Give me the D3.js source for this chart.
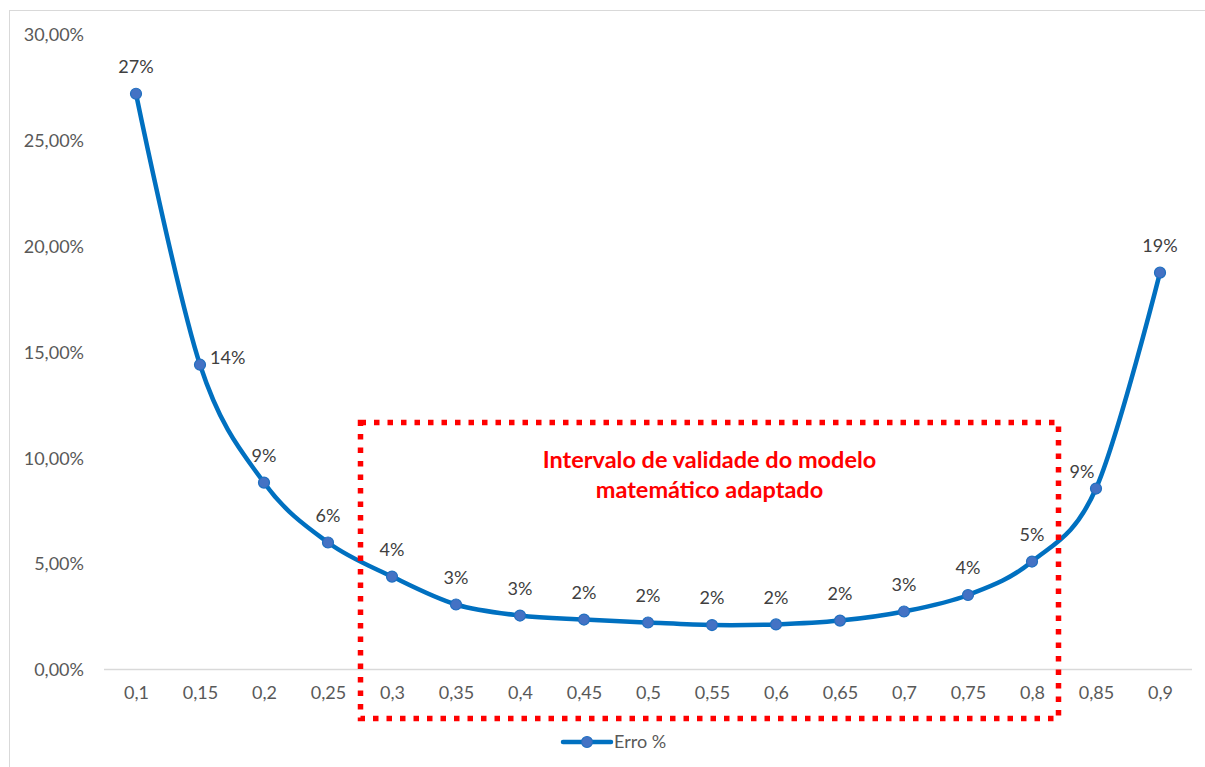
<!DOCTYPE html>
<html>
<head>
<meta charset="utf-8">
<script src="https://cdnjs.cloudflare.com/ajax/libs/d3/7.8.5/d3.min.js"></script>
<style>
  html, body { margin: 0; padding: 0; background: #fff; }
  svg { display: block; }
  text { font-family: Lato, "Open Sans", sans-serif; }
</style>
</head>
<body>
<svg id="chart" width="1205" height="767"></svg>
<script>
// Categories (x) and error values (fraction) for the single series
const categories = ["0,1","0,15","0,2","0,25","0,3","0,35","0,4","0,45","0,5","0,55","0,6","0,65","0,7","0,75","0,8","0,85","0,9"];
const erro = [0.272, 0.144, 0.0883, 0.060, 0.0439, 0.0307, 0.0255, 0.0236, 0.0222, 0.0210, 0.0213, 0.0231, 0.0274, 0.0352, 0.0510, 0.0855, 0.1875];
const yTicks = [0, 0.05, 0.10, 0.15, 0.20, 0.25, 0.30];
const seriesName = "Erro %";
// Validity interval of the adapted model (category span)
const intervalo = ["0,3", "0,8"];
const intervaloTexto = ["Intervalo de validade do modelo", "matemático adaptado"];

const svg = d3.select("#chart");
const W = 1205, H = 767;

// chart frame
svg.append("rect")
  .attr("x", 9.5).attr("y", 10.5)
  .attr("width", W + 20).attr("height", H + 20)
  .attr("fill", "#fff").attr("stroke", "#d9d9d9").attr("stroke-width", 1);

const plot = { left: 104, right: 1192, top: 34.5, bottom: 669.5 };

const x = d3.scalePoint().domain(categories).range([plot.left, plot.right]).padding(0.5);
const y = d3.scaleLinear().domain([0, 0.30]).range([plot.bottom, plot.top]);

const fmtAxis = v => d3.format(".2f")(v * 100).replace(".", ",") + "%";
const fmtLabel = v => Math.round(v * 100) + "%";

// y axis: labels only
const yAxis = d3.axisLeft(y).tickValues(yTicks).tickFormat(fmtAxis).tickSize(0).tickPadding(0);
const gy = svg.append("g").attr("transform", `translate(${plot.left - 20},0)`).call(yAxis);
gy.select(".domain").remove();
gy.selectAll("text").attr("fill", "#595959").style("font-size", "18px").attr("dy", "0.35em");

// x axis: baseline and labels
const xAxis = d3.axisBottom(x).tickSize(0).tickPadding(0);
const gx = svg.append("g").attr("transform", `translate(0,${plot.bottom})`).call(xAxis);
gx.select(".domain").remove();
gx.selectAll("text").attr("fill", "#595959").style("font-size", "18px").attr("y", 23).attr("dy", "0.35em");
svg.append("line")
  .attr("x1", plot.left).attr("x2", plot.right)
  .attr("y1", plot.bottom).attr("y2", plot.bottom)
  .attr("stroke", "#d9d9d9").attr("stroke-width", 1.3);

// smoothed series line
const data = categories.map((c, i) => ({ c, v: erro[i] }));
const line = d3.line().x(d => x(d.c)).y(d => y(d.v)).curve(d3.curveCardinal.tension(0));
svg.append("path").datum(data)
  .attr("d", line).attr("fill", "none")
  .attr("stroke", "#0070C0").attr("stroke-width", 4.5)
  .attr("stroke-linejoin", "round");

svg.append("g").selectAll("circle").data(data).join("circle")
  .attr("cx", d => x(d.c)).attr("cy", d => y(d.v)).attr("r", 5.5)
  .attr("fill", "#4472C4").attr("stroke", "#1F6FC0").attr("stroke-width", 1.2);

// data labels
const labelOffset = {
  "0,15": { dx: 10, dy: -7, anchor: "start" },
  "0,85": { dx: -14, dy: -17, anchor: "middle" }
};
svg.append("g").selectAll("text").data(data).join("text")
  .attr("x", d => x(d.c) + (labelOffset[d.c] ? labelOffset[d.c].dx : 0))
  .attr("y", d => y(d.v) + (labelOffset[d.c] ? labelOffset[d.c].dy : -27))
  .attr("dy", "0.35em")
  .attr("text-anchor", d => labelOffset[d.c] ? labelOffset[d.c].anchor : "middle")
  .attr("fill", "#404040").style("font-size", "18px")
  .text(d => fmtLabel(d.v));

// dotted box marking the validity interval
const boxLeft = x(intervalo[0]) - 31.5;
const boxRight = x(intervalo[1]) + 26.5;
svg.append("rect")
  .attr("x", boxLeft).attr("y", 422.5)
  .attr("width", boxRight - boxLeft).attr("height", 296)
  .attr("fill", "none").attr("stroke", "#FF0000")
  .attr("stroke-width", 5.5).attr("stroke-dasharray", "5.5 8");

const tx = (boxLeft + boxRight) / 2;
svg.append("text").attr("x", tx).attr("text-anchor", "middle")
  .attr("fill", "#FF0000").style("font-size", "23.5px").style("font-weight", "bold")
  .selectAll("tspan").data(intervaloTexto).join("tspan")
  .attr("x", tx).attr("y", (d, i) => 468 + i * 30).text(d => d);

// legend
const lg = svg.append("g");
lg.append("line").attr("x1", 563).attr("x2", 611).attr("y1", 742).attr("y2", 742)
  .attr("stroke", "#0070C0").attr("stroke-width", 4.5).attr("stroke-linecap", "round");
lg.append("circle").attr("cx", 587).attr("cy", 742).attr("r", 5.5)
  .attr("fill", "#4472C4").attr("stroke", "#1F6FC0").attr("stroke-width", 1.2);
lg.append("text").attr("x", 614).attr("y", 742).attr("dy", "0.35em")
  .attr("fill", "#595959").style("font-size", "18px").text(seriesName);
</script>
</body>
</html>
